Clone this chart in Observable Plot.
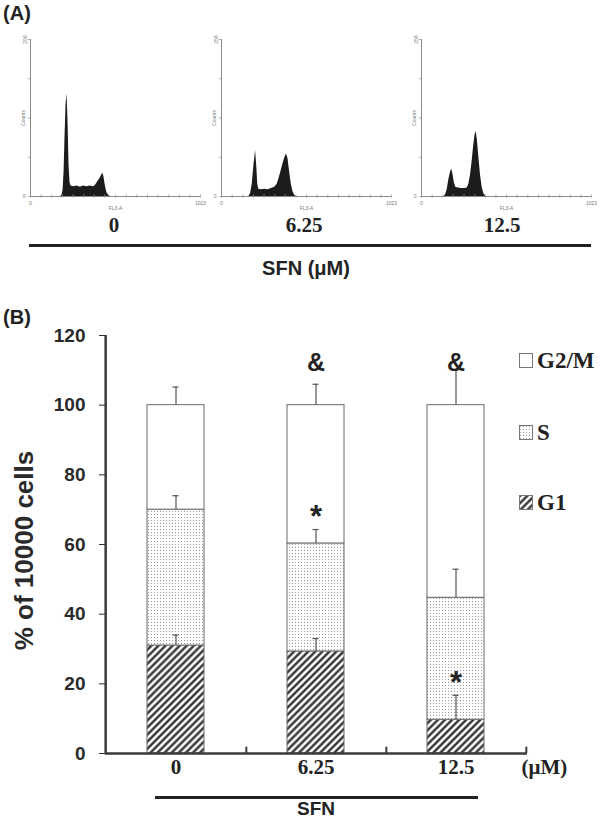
<!DOCTYPE html>
<html>
<head>
<meta charset="utf-8">
<script src="https://cdn.jsdelivr.net/npm/d3@7"></script>
<script src="https://cdn.jsdelivr.net/npm/@observablehq/plot@0.6"></script>
<style>
  body { margin: 0; background: #fff; }
  #root { position: relative; width: 600px; height: 819px; background: #fff; overflow: hidden; }
  .abs { position: absolute; white-space: nowrap; line-height: 1; }
  .ctr { transform: translate(-50%, -50%); }
  .sans { font-family: "Liberation Sans", Arial, sans-serif; font-weight: bold; color: #222; }
  .serif { font-family: "Liberation Serif", "Times New Roman", serif; font-weight: bold; color: #222; }
  svg { overflow: visible; }
</style>
</head>
<body>
<svg width="0" height="0" style="position:absolute">
  <defs>
    <pattern id="dots" width="3" height="3" patternUnits="userSpaceOnUse">
      <rect width="3" height="3" fill="#fff"/>
      <rect x="1" y="1" width="1" height="1" fill="#9a9a9a"/>
    </pattern>
    <pattern id="hatch" width="5" height="5" patternUnits="userSpaceOnUse" patternTransform="rotate(45)">
      <rect width="5" height="5" fill="#fff"/>
      <line x1="1.5" y1="0" x2="1.5" y2="5" stroke="#1e1e1e" stroke-width="2.2"/>
    </pattern>
  </defs>
</svg>
<div id="root"></div>
<script>
// ---------------- DATA ----------------
const doses = ["0", "6.25", "12.5"];

// Panel A: DNA-content histograms (FL3-A channel vs counts)
const hist0Channel = [0, 180, 190, 196, 202, 208, 214, 220, 226, 232, 238, 244, 260, 280, 300, 320, 340, 360, 380, 390, 400, 410, 420, 430, 436, 442, 450, 460, 470, 480, 1023];
const hist0Count   = [0, 0, 2, 10, 40, 100, 150, 167, 120, 50, 22, 17, 16, 17, 15, 17, 16, 17, 16, 18, 22, 26, 30, 36, 38, 32, 18, 6, 2, 0, 0];
const hist1Channel = [0, 165, 175, 185, 195, 205, 212, 218, 224, 240, 260, 280, 300, 320, 335, 345, 355, 365, 375, 385, 392, 400, 410, 420, 430, 440, 450, 1023];
const hist1Count   = [0, 0, 5, 20, 50, 75, 50, 20, 12, 11, 12, 11, 13, 15, 20, 28, 38, 48, 58, 66, 69, 62, 40, 20, 8, 2, 0, 0];
const hist2Channel = [0, 135, 145, 155, 165, 175, 182, 190, 198, 206, 220, 240, 260, 275, 285, 295, 305, 315, 322, 328, 335, 345, 355, 365, 375, 385, 395, 1023];
const hist2Count   = [0, 0, 3, 12, 28, 40, 45, 35, 22, 15, 14, 13, 13, 14, 20, 35, 58, 85, 100, 106, 95, 65, 35, 15, 5, 1, 0, 0];
const histYTicks = [0, 64, 128, 192, 256];
const histXTicks = [0, 64, 128, 192, 256, 320, 384, 448, 512, 576, 640, 704, 768, 832, 896, 960, 1023];

// Panel B: % of 10000 cells per phase (mean, SD)
const phases = ["G1", "S", "G2/M"];
const g1Value  = [31, 29.3, 9.7];
const g1Err    = [3, 3.7, 7];
const sValue   = [39, 31, 35];
const sErr     = [4, 4, 8.2];
const g2mValue = [30, 39.7, 55.3];
const g2mErr   = [5.2, 6, 10];
const yTicks = [0, 20, 40, 60, 80, 100, 120];
const ampDoses = ["6.25", "12.5"];          // "&" marks
const starDoses = ["6.25", "12.5"];         // "*" marks
const starPhases = ["S", "G1"];

// ---------------- BUILD ----------------
const root = document.getElementById("root");
function addText(txt, cls, x, y, size) {
  const d = document.createElement("div");
  d.className = "abs ctr " + cls;
  d.style.left = x + "px"; d.style.top = y + "px"; d.style.fontSize = size + "px";
  d.textContent = txt;
  root.appendChild(d);
  return d;
}
function addBox(x, y, w, h, bg) {
  const d = document.createElement("div");
  d.className = "abs";
  Object.assign(d.style, {left: x + "px", top: y + "px", width: w + "px", height: h + "px", background: bg});
  root.appendChild(d);
}

// Panel labels
addText("(A)", "sans", 17, 13, 20);
addText("(B)", "sans", 17, 317, 20);

// Histograms
const tiny = {fontFamily: "Liberation Sans", fontSize: 5, fill: "#777"};
function histogram(xs, ys) {
  const data = xs.map((x, i) => ({x, y: ys[i]}));
  return Plot.plot({
    width: 208, height: 190,
    marginLeft: 30, marginRight: 8, marginTop: 19, marginBottom: 14,
    x: {domain: [0, 1023], axis: null},
    y: {domain: [0, 256], axis: null},
    style: {background: "transparent", overflow: "visible"},
    marks: [
      Plot.areaY(data, {x: "x", y: "y", fill: "#1c1c1c"}),
      Plot.ruleY([0], {stroke: "#8a8a8a", strokeWidth: 1}),
      Plot.ruleX([0], {y1: 0, y2: 256, stroke: "#8a8a8a", strokeWidth: 1}),
      Plot.ruleX(histXTicks, {x: d => d, y1: -3, y2: 3, stroke: "#999", strokeWidth: 0.7}),
      Plot.ruleY(histYTicks, {y: d => d, x1: -14, x2: 0, stroke: "#999", strokeWidth: 0.7}),
      Plot.text(["0"], {x: 0, y: 0, dx: -5, text: d => d, textAnchor: "end", ...tiny}),
      Plot.text(["0"], {x: 0, y: 0, dy: 7, text: d => d, ...tiny}),
      Plot.text(["1023"], {x: 1023, y: 0, dy: 7, text: d => d, ...tiny}),
      Plot.text(["FL3-A"], {x: 512, y: 0, dy: 12, text: d => d, ...tiny}),
      Plot.text(["256"], {x: 0, y: 256, dx: -5, rotate: -90, text: d => d, ...tiny}),
      Plot.text(["Counts"], {x: 0, y: 128, dx: -7, rotate: -90, text: d => d, ...tiny})
    ]
  });
}
const histSets = [[hist0Channel, hist0Count], [hist1Channel, hist1Count], [hist2Channel, hist2Count]];
const histLeft = [0, 191, 391];
const histLabelX = [114, 304, 502];
histSets.forEach(([xs, ys], i) => {
  const holder = document.createElement("div");
  holder.className = "abs";
  holder.style.left = histLeft[i] + "px"; holder.style.top = "20px";
  holder.appendChild(histogram(xs, ys));
  root.appendChild(holder);
  addText(doses[i], "serif", histLabelX[i], 225, 21);
});
addBox(29, 244, 562, 2.5, "#222");
addText("SFN (\u03BCM)", "sans", 306, 268, 20);

// Panel B: stacked bars
const rows = [];
doses.forEach((dose, i) => {
  let base = 0;
  [["G1", g1Value[i], g1Err[i]], ["S", sValue[i], sErr[i]], ["G2/M", g2mValue[i], g2mErr[i]]].forEach(([phase, v, e]) => {
    rows.push({dose, phase, y1: base, y2: base + v, err: e});
    base += v;
  });
});
const phaseFill = {"G1": "url(#hatch)", "S": "url(#dots)", "G2/M": "#fff"};
const starRows = starDoses.map((d, i) => rows.find(r => r.dose === d && r.phase === starPhases[i]));
const halfStep = 422 / 3 / 2;
const axisColor = "#3a3a3a";

const chart = Plot.plot({
  width: 600, height: 519,
  marginLeft: 105, marginRight: 73, marginTop: 35, marginBottom: 66,
  x: {domain: doses, paddingInner: 0.59, paddingOuter: 0.295, axis: null},
  y: {domain: [0, 120], ticks: yTicks, tickSize: 6, tickPadding: 14, label: null, tickFormat: d => d},
  style: {background: "transparent", fontFamily: "Liberation Sans, Arial, sans-serif", fontSize: "19px", fontWeight: "bold", color: "#2a2a2a", overflow: "visible"},
  marks: [
    ...phases.map(p => Plot.barY(rows.filter(r => r.phase === p), {x: "dose", y1: "y1", y2: "y2", fill: phaseFill[p], stroke: "#6a6a6a", strokeWidth: 1})),
    Plot.ruleX(rows, {x: "dose", y1: "y2", y2: d => d.y2 + d.err, stroke: "#555", strokeWidth: 1.2}),
    Plot.tickY(rows, {x: "dose", y: d => d.y2 + d.err, insetLeft: 25.5, insetRight: 25.5, stroke: "#555", strokeWidth: 1.2}),
    Plot.ruleY([0], {stroke: axisColor, strokeWidth: 2.5}),
    Plot.ruleX([doses[0]], {x: d => d, y1: 0, y2: 120, dx: -halfStep, stroke: axisColor, strokeWidth: 2.5}),
    Plot.ruleX(doses, {x: d => d, y1: 0, y2: 1.8, dx: halfStep, stroke: axisColor, strokeWidth: 2}),
    Plot.text(ampDoses, {x: d => d, y: 112, text: () => "&", fontSize: 25, fontWeight: "bold", fill: "#222"}),
    Plot.text(starRows, {x: "dose", y: d => d.y2 + d.err, dy: -12, text: () => "*", fontSize: 31, fontWeight: "bold", fill: "#222"}),
    Plot.text(doses, {x: d => d, text: d => d, frameAnchor: "bottom", dy: 20, fontFamily: "Liberation Serif, Times New Roman, serif", fontSize: 21, fontWeight: "bold", fill: "#222"}),
    Plot.text(["(\u03BCM)"], {text: d => d, frameAnchor: "bottom-right", dx: -6, dy: 20, textAnchor: "start", fontFamily: "Liberation Serif, Times New Roman, serif", fontSize: 21, fontWeight: "bold", fill: "#222"}),
    Plot.text(["% of 10000 cells"], {text: d => d, frameAnchor: "left", textAnchor: "middle", rotate: -90, dx: -81, dy: 6, fontSize: 26, fontWeight: "bold", fill: "#2a2a2a"})
  ]
});
const holderB = document.createElement("div");
holderB.className = "abs";
holderB.style.left = "0px"; holderB.style.top = "300px";
holderB.appendChild(chart);
root.appendChild(holderB);

// SFN underline & label
addBox(155, 796, 323, 2.5, "#222");
addText("SFN", "sans", 316, 808, 19);

// Legend
const legendY = {"G2/M": 360, "S": 432, "G1": 502};
["G2/M", "S", "G1"].forEach(p => {
  const y = legendY[p];
  const sw = document.createElementNS("http://www.w3.org/2000/svg", "svg");
  sw.setAttribute("width", 14); sw.setAttribute("height", 15);
  sw.style.position = "absolute"; sw.style.left = "519px"; sw.style.top = (y - 7.5) + "px";
  sw.innerHTML = `<rect x="0.5" y="0.5" width="13" height="14" fill="${phaseFill[p]}" stroke="#777" stroke-width="1"/>`;
  root.appendChild(sw);
  const t = document.createElement("div");
  t.className = "abs serif";
  t.style.left = "537px"; t.style.top = (y - 11) + "px"; t.style.fontSize = "23px";
  t.textContent = p;
  root.appendChild(t);
});
</script>
</body>
</html>
